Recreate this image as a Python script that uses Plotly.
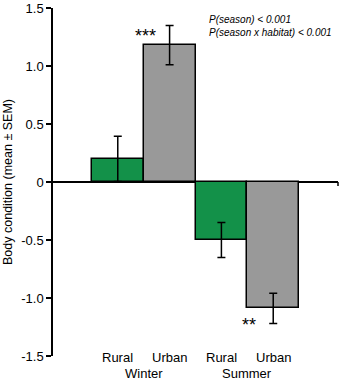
import plotly.graph_objects as go

habitats = ["Rural", "Urban", "Rural", "Urban"]
seasons = ["Winter", "Summer"]
values = [0.20, 1.18, -0.50, -1.09]
sem = [0.195, 0.17, 0.15, 0.13]
colors = ["#139149", "#999999", "#139149", "#999999"]
ytick_vals = [-1.5, -1.0, -0.5, 0, 0.5, 1.0, 1.5]
ytick_text = ["-1.5", "-1.0", "-0.5", "0", "0.5", "1.0", "1.5"]
sig_labels = ["", "***", "", "**"]
stats_text = ["P(season) < 0.001", "P(season x habitat) < 0.001"]

xpos = list(range(len(values)))
FONT = "Liberation Sans, Arial, sans-serif"

fig = go.Figure()
fig.add_trace(go.Bar(
    x=xpos, y=values, width=1.0,
    marker=dict(color=colors, line=dict(color="black", width=1.5)),
    error_y=dict(type="data", array=sem, visible=True, color="black",
                 thickness=1.5, width=4),
    showlegend=False, hoverinfo="skip",
))

annotations = []
for i, h in enumerate(habitats):
    annotations.append(dict(x=i, y=-0.003, xref="x", yref="paper", text=h,
                            showarrow=False, font=dict(size=13, color="black", family=FONT),
                            xanchor="center", yanchor="middle"))
for j, s in enumerate(seasons):
    annotations.append(dict(x=2 * j + 0.5, y=-0.049, xref="x", yref="paper", text=s,
                            showarrow=False, font=dict(size=13, color="black", family=FONT),
                            xanchor="center", yanchor="middle"))
for i, lab in enumerate(sig_labels):
    if not lab:
        continue
    if values[i] > 0:
        yv = values[i] + sem[i] * 0.45
    else:
        yv = values[i] - sem[i] * 1.1
    annotations.append(dict(x=i - 0.47, y=yv, xref="x", yref="y", text=lab,
                            showarrow=False, font=dict(size=18, color="black", family=FONT),
                            xanchor="center", yanchor="middle"))
annotations.append(dict(x=1.72, y=1.345, xref="x", yref="y",
                        text="<i>" + stats_text[0] + "</i><br><i>" + stats_text[1] + "</i>",
                        showarrow=False, align="left", xanchor="left", yanchor="middle",
                        font=dict(size=10, color="black", family=FONT)))

fig.update_layout(
    width=340, height=381,
    margin=dict(l=53, r=2, t=8, b=25, autoexpand=False),
    paper_bgcolor="white", plot_bgcolor="white",
    font=dict(family=FONT, color="black"),
    bargap=0,
    annotations=annotations,
    shapes=[dict(type="line", xref="paper", yref="y", x0=1, x1=1, y0=0, y1=-0.035,
                 line=dict(color="black", width=1.5))],
)
fig.update_xaxes(range=[-1.25, 4.25], showticklabels=False, showgrid=False,
                 zeroline=False, showline=False, ticks="", automargin=False)
fig.update_yaxes(range=[-1.5, 1.5], tickvals=ytick_vals, ticktext=ytick_text,
                 showgrid=False, zeroline=True, zerolinecolor="black", zerolinewidth=1.5,
                 showline=True, linecolor="black", linewidth=1.5, automargin=False,
                 ticks="outside", ticklen=5, tickwidth=1.5, tickcolor="black",
                 tickfont=dict(size=13, color="black", family=FONT),
                 title=dict(text="Body condition (mean ± SEM)",
                            font=dict(size=12.5, color="black", family=FONT), standoff=6))

fig.write_html("out.html", config={"displayModeBar": False},
               post_script="document.body.style.margin='0';document.body.style.overflow='hidden';")
